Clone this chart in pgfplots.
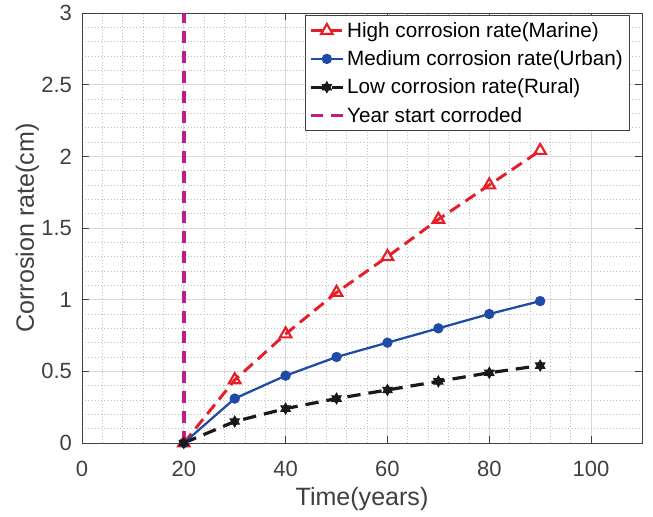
\documentclass[border=0pt]{standalone}
\usepackage{pgfplots}
\pgfplotsset{compat=1.18}
\usepackage{fontspec}
\setmainfont{Liberation Sans}
\definecolor{cred}{RGB}{230,30,40}
\definecolor{cblue}{RGB}{30,75,165}
\definecolor{cmag}{RGB}{190,30,140}
\definecolor{cgray}{RGB}{64,64,64}
\pgfdeclareplotmark{hexstar}{%
  \pgfpathmoveto{\pgfqpointpolar{90}{\pgfplotmarksize}}%
  \pgfpathlineto{\pgfqpointpolar{210}{\pgfplotmarksize}}%
  \pgfpathlineto{\pgfqpointpolar{330}{\pgfplotmarksize}}%
  \pgfpathclose
  \pgfpathmoveto{\pgfqpointpolar{270}{\pgfplotmarksize}}%
  \pgfpathlineto{\pgfqpointpolar{30}{\pgfplotmarksize}}%
  \pgfpathlineto{\pgfqpointpolar{150}{\pgfplotmarksize}}%
  \pgfpathclose
  \pgfusepathqfillstroke}
\begin{document}
\begin{tikzpicture}
\begin{axis}[
  at={(0,0)}, anchor=south west,
  scale only axis,
  width=420pt, height=322.5pt,
  xmin=0, xmax=110, ymin=0, ymax=3,
  xtick={0,20,...,100},
  ytick={0,0.5,...,3},
  yticklabels={0,0.5,1,1.5,2,2.5,3},
  minor x tick num=4,
  minor y tick num=4,
  grid=both,
  major grid style={gray!30, line width=0.6pt},
  minor grid style={gray!50, dotted, line width=0.5pt},
  axis line style={cgray, line width=0.7pt},
  tick style={cgray, line width=0.7pt},
  minor tick length=0pt,
  major tick length=5pt,
  tick align=inside,
  ticklabel style={font=\fontsize{16.5}{17}\selectfont, text=cgray},
  /pgf/number format/assume math mode=true,
  xticklabel style={yshift=-10pt},
  yticklabel style={xshift=-4pt},
  xlabel={Time(years)},
  ylabel={Corrosion rate(cm)},
  every axis x label/.style={at={(axis description cs:0.5,0)}, anchor=center,
    yshift=-42pt, font=\fontsize{18.8}{19}\selectfont, text=cgray},
  every axis y label/.style={at={(axis description cs:0,0.5)}, xshift=-41pt,
    rotate=90, anchor=center, font=\fontsize{18.8}{19}\selectfont, text=cgray},
  legend style={at={(1,1)}, xshift=-9pt, yshift=-1.5pt, anchor=north east, draw=cgray,
    font=\fontsize{15.5}{17}\selectfont, row sep=4.5pt, inner sep=3pt, line width=0.7pt},
  legend cell align=left,
  legend image code/.code={\draw[mark repeat=2, mark phase=2, #1]
    plot coordinates {(0cm,0cm)(0.42cm,0cm)(0.84cm,0cm)};},
  clip=false,
]
\addplot[cred, dash pattern=on 9pt off 5pt, line width=2.2pt,
  mark=triangle, mark size=5pt, mark options={solid, line width=1.6pt, fill=white}]
  coordinates {(20,0)(30,0.44)(40,0.76)(50,1.05)(60,1.30)(70,1.56)(80,1.80)(90,2.04)};
\addlegendentry{High corrosion rate(Marine)}
\addplot[cblue, line width=1.7pt, mark=*, mark size=3pt]
  coordinates {(20,0)(30,0.31)(40,0.47)(50,0.60)(60,0.70)(70,0.80)(80,0.90)(90,0.99)};
\addlegendentry{Medium corrosion rate(Urban)}
\addplot[black!90, dash pattern=on 10pt off 6pt, line width=2.4pt,
  mark=hexstar, mark size=4pt, mark options={solid, fill=black!90, line width=0.8pt}]
  coordinates {(20,0)(30,0.15)(40,0.24)(50,0.31)(60,0.37)(70,0.43)(80,0.49)(90,0.54)};
\addlegendentry{Low corrosion rate(Rural)}
\addplot[cmag, dash pattern=on 9pt off 6pt, line width=2.6pt]
  coordinates {(20,0)(20,3)};
\addlegendentry{Year start corroded}
\end{axis}
\pgfresetboundingbox
\useasboundingbox (-61.5pt,-55.5pt) rectangle (428.25pt,332.25pt);
\end{tikzpicture}
\end{document}
